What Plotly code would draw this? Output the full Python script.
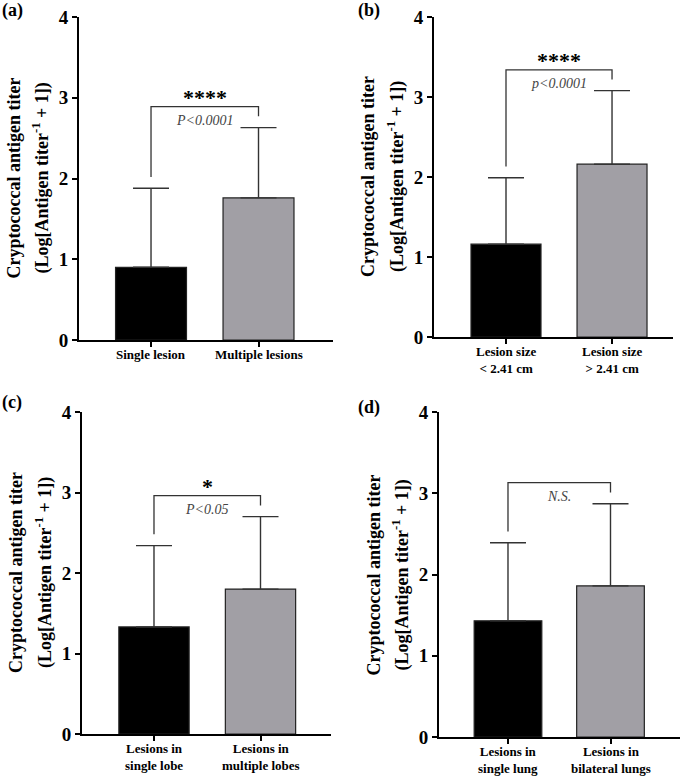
import plotly.graph_objects as go

# ---------------- data ----------------
panel_letters = ["(a)", "(b)", "(c)", "(d)"]
cats_a = ["Single lesion", "Multiple lesions"]
cats_b = ["Lesion size<br>&lt; 2.41 cm", "Lesion size<br>&gt; 2.41 cm"]
cats_c = ["Lesions in<br>single lobe", "Lesions in<br>multiple lobes"]
cats_d = ["Lesions in<br>single lung", "Lesions in<br>bilateral lungs"]

mean_a = [0.90, 1.76]
sd_a = [0.98, 0.87]
mean_b = [1.16, 2.16]
sd_b = [0.83, 0.92]
mean_c = [1.33, 1.80]
sd_c = [1.01, 0.90]
mean_d = [1.43, 1.86]
sd_d = [0.96, 1.01]

stars = ["****", "****", "*", ""]
p_texts = ["P&lt;0.0001", "p&lt;0.0001", "P&lt;0.05", "N.S."]

y_ticks = [0, 1, 2, 3, 4]
title_line1 = "Cryptococcal antigen titer"
title_line2 = "(Log[Antigen titer<sup>-1</sup> + 1])"

# ---------------- layout helpers ----------------
W, H = 685, 778
# pixel boxes of each plot area: (x_left, x_right, y_top, y_bottom)
boxes = [(79, 333, 17, 340), (434, 673, 17, 337), (82, 331, 412, 734), (439, 680, 412, 737)]
xranges = [(-0.670, 1.693), (-0.679, 1.575), (-0.676, 1.662), (-0.673, 1.678)]
bar_width = 0.66

panels = [
    (cats_a, mean_a, sd_a),
    (cats_b, mean_b, sd_b),
    (cats_c, mean_c, sd_c),
    (cats_d, mean_d, sd_d),
]

FONT = "Liberation Serif"
colors = ["#000000", "#a19fa5"]

fig = go.Figure()
shapes = []
annotations = []

for i, (cats, means, sds) in enumerate(panels):
    n = i + 1
    xa = "x" if n == 1 else f"x{n}"
    ya = "y" if n == 1 else f"y{n}"
    xl, xr, yt, yb = boxes[i]
    dom_x = [xl / W, xr / W]
    dom_y = [1 - yb / H, 1 - yt / H]

    fig.add_trace(go.Bar(
        x=[0, 1], y=means, width=bar_width,
        marker=dict(color=colors, line=dict(color="#222222", width=1.2)),
        error_y=dict(type="data", symmetric=False, array=sds,
                     arrayminus=[0, 0], color="#333333", thickness=1.4, width=18),
        xaxis=xa, yaxis=ya, showlegend=False, hoverinfo="skip",
    ))

    axkey_x = "xaxis" if n == 1 else f"xaxis{n}"
    axkey_y = "yaxis" if n == 1 else f"yaxis{n}"
    fig.update_layout(**{
        axkey_x: dict(domain=dom_x, range=list(xranges[i]), anchor=ya,
                      tickvals=[0, 1], showticklabels=False, showline=True,
                      linecolor="black", linewidth=2, ticks="outside",
                      ticklen=5, tickwidth=2, tickcolor="black",
                      showgrid=False, zeroline=False, automargin=False),
        axkey_y: dict(domain=dom_y, range=[0, 4], anchor=xa,
                      tickvals=y_ticks, showline=True, linecolor="black",
                      linewidth=2, ticks="outside", ticklen=5, tickwidth=2,
                      tickcolor="black", showgrid=False, zeroline=False,
                      automargin=False,
                      tickfont=dict(family=FONT, size=19, color="black", weight="bold")),
    })

    # category labels under each tick
    for xc, label in enumerate(cats):
        annotations.append(dict(
            x=xc, y=0, xref=xa, yref=ya, text=label, showarrow=False,
            xanchor="center", yanchor="top", yshift=-6, borderpad=0,
            font=dict(family=FONT, size=13, color="black", weight="bold"),
        ))

    # significance bracket
    tops = [m + s for m, s in zip(means, sds)]
    by = max(tops) + 0.26
    shapes.append(dict(
        type="path", xref=xa, yref=ya,
        path=f"M 0,{tops[0] + 0.14} L 0,{by} L 1,{by} L 1,{tops[1] + 0.14}",
        line=dict(color="#333333", width=1.3),
    ))
    if stars[i]:
        annotations.append(dict(
            x=0.5, y=by, xref=xa, yref=ya, text=stars[i], showarrow=False,
            yanchor="middle", yshift=9,
            font=dict(family=FONT, size=22, color="black", weight="bold"),
        ))
    annotations.append(dict(
        x=0.5, y=by, xref=xa, yref=ya, text=f"<i>{p_texts[i]}</i>", showarrow=False,
        yanchor="middle", yshift=-14,
        font=dict(family=FONT, size=14, color="#444444"),
    ))

    # y-axis titles (two lines)
    ymid = (dom_y[0] + dom_y[1]) / 2
    annotations.append(dict(
        x=dom_x[0], y=ymid, xref="paper", yref="paper", xshift=-66,
        text=title_line1, textangle=-90, showarrow=False,
        xanchor="center", yanchor="middle",
        font=dict(family=FONT, size=18, color="black", weight="bold"),
    ))
    annotations.append(dict(
        x=dom_x[0], y=ymid, xref="paper", yref="paper", xshift=-38,
        text=title_line2, textangle=-90, showarrow=False,
        xanchor="center", yanchor="middle",
        font=dict(family=FONT, size=18, color="black", weight="bold"),
    ))

# panel letters
letter_pos = [(12, 11), (369, 11), (12, 403), (369, 407)]
for letter, (px, py) in zip(panel_letters, letter_pos):
    annotations.append(dict(
        x=px / W, y=1 - py / H, xref="paper", yref="paper", text=letter,
        showarrow=False, xanchor="center", yanchor="middle",
        font=dict(family=FONT, size=18, color="black", weight="bold"),
    ))

fig.update_layout(
    template="none",
    width=W, height=H,
    margin=dict(l=0, r=0, t=0, b=0, autoexpand=False),
    paper_bgcolor="white", plot_bgcolor="white",
    shapes=shapes, annotations=annotations,
    bargap=0, hovermode=False,
)

fig.write_html(
    "out.html",
    config={"displayModeBar": False, "staticPlot": True},
    post_script="document.body.style.margin='0px';document.body.style.overflow='hidden';",
)
